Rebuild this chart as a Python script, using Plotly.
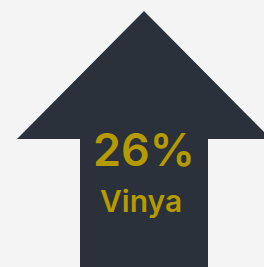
import plotly.graph_objects as go

# Data
value_label = "26%"
category_label = "Vinya"
arrow_x = [144, 271, 208, 208, 80, 80, 17, 144]
arrow_y = [11, 139, 139, 275, 275, 139, 139, 11]

fig = go.Figure()
fig.add_trace(go.Scatter(
    x=arrow_x, y=arrow_y, mode="lines", fill="toself",
    fillcolor="#2a313b", line=dict(color="#2a313b", width=0),
    hoverinfo="skip", showlegend=False,
))
fig.add_annotation(x=144, y=149, text=value_label, showarrow=False,
                   xanchor="center", yanchor="middle",
                   font=dict(family="Inter", size=45, color="#b59a00", weight=600))
fig.add_annotation(x=141, y=201, text=category_label, showarrow=False,
                   xanchor="center", yanchor="middle",
                   font=dict(family="Inter", size=30, color="#b59a00", weight=600))
fig.update_layout(
    width=264, height=267, margin=dict(l=0, r=0, t=0, b=0),
    paper_bgcolor="#f4f4f4", plot_bgcolor="#f4f4f4",
    xaxis=dict(range=[0, 264], visible=False, fixedrange=True),
    yaxis=dict(range=[267, 0], visible=False, fixedrange=True),
)
fig.write_html("out.html", config={"displayModeBar": False},
               post_script="document.body.style.margin='0';document.body.style.background='#f4f4f4';document.body.style.overflow='hidden';")
